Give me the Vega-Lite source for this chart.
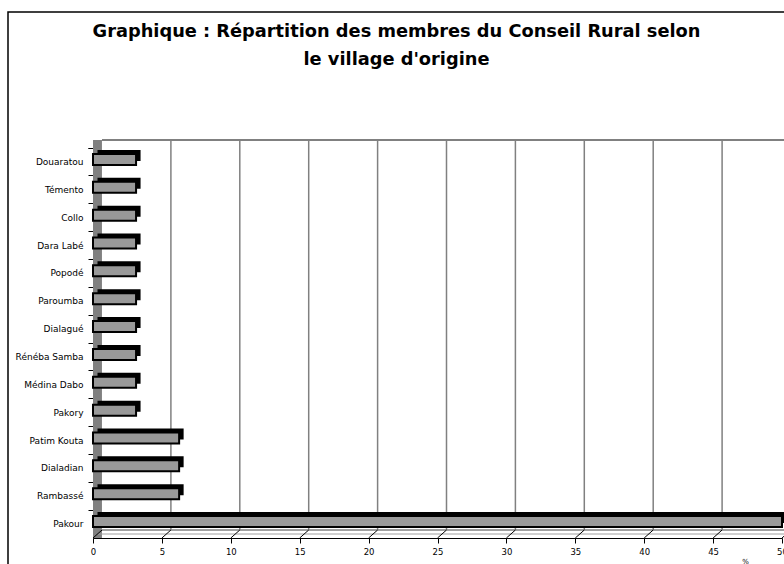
{
  "$schema": "https://vega.github.io/schema/vega-lite/v6.json",
  "width": 689,
  "height": 390,
  "autosize": {"type": "none"},
  "padding": {"left": 93, "top": 148, "right": 2, "bottom": 26},
  "background": "white",
  "title": {
    "text": ["Graphique : Répartition des membres du Conseil Rural selon", "le village d'origine"],
    "font": "DejaVu Sans",
    "fontSize": 17.8,
    "fontWeight": "bold",
    "color": "#000000",
    "lineHeight": 28,
    "anchor": "middle",
    "frame": "group",
    "dx": -41,
    "offset": -76,
    "baseline": "bottom"
  },
  "config": {
    "view": {"stroke": null},
    "axis": {"labelFont": "DejaVu Sans", "titleFont": "DejaVu Sans"}
  },
  "datasets": {
    "villages": [
      {"village": "Douaratou", "pct": 3.125},
      {"village": "Témento", "pct": 3.125},
      {"village": "Collo", "pct": 3.125},
      {"village": "Dara Labé", "pct": 3.125},
      {"village": "Popodé", "pct": 3.125},
      {"village": "Paroumba", "pct": 3.125},
      {"village": "Dialagué", "pct": 3.125},
      {"village": "Rénéba Samba", "pct": 3.125},
      {"village": "Médina Dabo", "pct": 3.125},
      {"village": "Pakory", "pct": 3.125},
      {"village": "Patim  Kouta", "pct": 6.25},
      {"village": "Dialadian", "pct": 6.25},
      {"village": "Rambassé", "pct": 6.25},
      {"village": "Pakour", "pct": 50}
    ],
    "grid": [
      {"v": 5}, {"v": 10}, {"v": 15}, {"v": 20}, {"v": 25},
      {"v": 30}, {"v": 35}, {"v": 40}, {"v": 45}, {"v": 50}
    ],
    "floor": [
      {"v": 0}, {"v": 5}, {"v": 10}, {"v": 15}, {"v": 20}, {"v": 25},
      {"v": 30}, {"v": 35}, {"v": 40}, {"v": 45}, {"v": 50}
    ]
  },
  "resolve": {"scale": {"x": "independent", "y": "independent"}},
  "layer": [
    {
      "data": {"values": [{}]},
      "mark": {"type": "rect", "fill": "transparent", "stroke": "#000000", "strokeWidth": 1.5},
      "encoding": {
        "x": {"datum": 0, "type": "quantitative", "scale": {"domain": [0, 1], "range": [-85, 900], "nice": false}, "axis": null},
        "x2": {"datum": 1},
        "y": {"datum": 0, "type": "quantitative", "scale": {"domain": [0, 1], "range": [-136, 700], "nice": false}, "axis": null},
        "y2": {"datum": 1}
      }
    },
    {
      "data": {"values": [{}]},
      "mark": {"type": "rect", "fill": "#808080", "y2Offset": -8},
      "encoding": {
        "x": {"datum": 0, "type": "quantitative", "scale": {"domain": [0, 50], "nice": false}, "axis": null},
        "x2": {"datum": 0.65},
        "y": {"datum": 0, "type": "quantitative", "scale": {"domain": [0, 1], "nice": false}, "axis": null},
        "y2": {"datum": 1}
      }
    },
    {
      "data": {"name": "grid"},
      "mark": {"type": "rule", "stroke": "#808080", "strokeWidth": 1.5, "xOffset": 9, "yOffset": -8, "y2Offset": -8},
      "encoding": {
        "x": {"field": "v", "type": "quantitative", "scale": {"domain": [0, 50], "nice": false}, "axis": null},
        "y": {"datum": 0, "type": "quantitative", "scale": {"domain": [0, 1], "nice": false}, "axis": null},
        "y2": {"datum": 1}
      }
    },
    {
      "data": {"values": [{}]},
      "mark": {"type": "rule", "stroke": "#808080", "strokeWidth": 2, "xOffset": 9, "x2Offset": 9, "yOffset": -8},
      "encoding": {
        "x": {"datum": 0, "type": "quantitative", "scale": {"domain": [0, 50], "nice": false}, "axis": null},
        "x2": {"datum": 60},
        "y": {"datum": 1, "type": "quantitative", "scale": {"domain": [0, 1], "nice": false}, "axis": null}
      }
    },
    {
      "data": {"values": [{}]},
      "mark": {"type": "rule", "stroke": "#808080", "strokeWidth": 1.5, "xOffset": 9, "x2Offset": 9, "yOffset": -8},
      "encoding": {
        "x": {"datum": 0, "type": "quantitative", "scale": {"domain": [0, 50], "nice": false}, "axis": null},
        "x2": {"datum": 60},
        "y": {"datum": 0, "type": "quantitative", "scale": {"domain": [0, 1], "nice": false}, "axis": null}
      }
    },
    {
      "data": {"values": [{}]},
      "mark": {"type": "rule", "stroke": "#a0a0a0", "strokeWidth": 1, "xOffset": 5, "x2Offset": 5, "yOffset": -4},
      "encoding": {
        "x": {"datum": 0, "type": "quantitative", "scale": {"domain": [0, 50], "nice": false}, "axis": null},
        "x2": {"datum": 60},
        "y": {"datum": 0, "type": "quantitative", "scale": {"domain": [0, 1], "nice": false}, "axis": null}
      }
    },
    {
      "data": {"name": "floor"},
      "mark": {"type": "rule", "stroke": "#000000", "strokeWidth": 1, "x2Offset": 9, "y2Offset": -8},
      "encoding": {
        "x": {"field": "v", "type": "quantitative", "scale": {"domain": [0, 50], "nice": false}, "axis": null},
        "x2": {"field": "v"},
        "y": {"datum": 0, "type": "quantitative", "scale": {"domain": [0, 1], "nice": false}, "axis": null},
        "y2": {"datum": 0}
      }
    },
    {
      "data": {"name": "villages"},
      "mark": {"type": "bar", "color": "#000000", "size": 11, "xOffset": 4.5, "x2Offset": 4.5, "yOffset": -6.5},
      "encoding": {
        "x": {"field": "pct", "type": "quantitative", "scale": {"domain": [0, 50], "nice": false}, "axis": null},
        "y": {"field": "village", "type": "nominal", "sort": null, "scale": {"paddingInner": 0, "paddingOuter": 0}, "axis": null}
      }
    },
    {
      "data": {"name": "villages"},
      "mark": {"type": "bar", "fill": "#999999", "stroke": "#000000", "strokeWidth": 2, "size": 11, "yOffset": -2.5},
      "encoding": {
        "x": {
          "field": "pct", "type": "quantitative",
          "scale": {"domain": [0, 50], "nice": false},
          "axis": {
            "values": [0, 5, 10, 15, 20, 25, 30, 35, 40, 45, 50],
            "title": "%", "titleFontSize": 7, "titleFontWeight": "normal", "titleColor": "#000000",
            "titleX": 652, "titleY": 19, "titleBaseline": "top",
            "labelFontSize": 8.5, "labelColor": "#000000", "labelPadding": 4, "labelFlush": false,
            "tickColor": "#000000", "tickSize": 5, "domainColor": "#000000", "grid": false
          }
        },
        "y": {
          "field": "village", "type": "nominal", "sort": null,
          "scale": {"paddingInner": 0, "paddingOuter": 0},
          "axis": {
            "title": null, "labelFontSize": 9, "labelColor": "#000000", "labelPadding": 5,
            "tickSize": 5, "tickColor": "#000000", "bandPosition": 0, "tickExtra": true,
            "domainColor": "#000000", "grid": false
          }
        }
      }
    }
  ]
}
